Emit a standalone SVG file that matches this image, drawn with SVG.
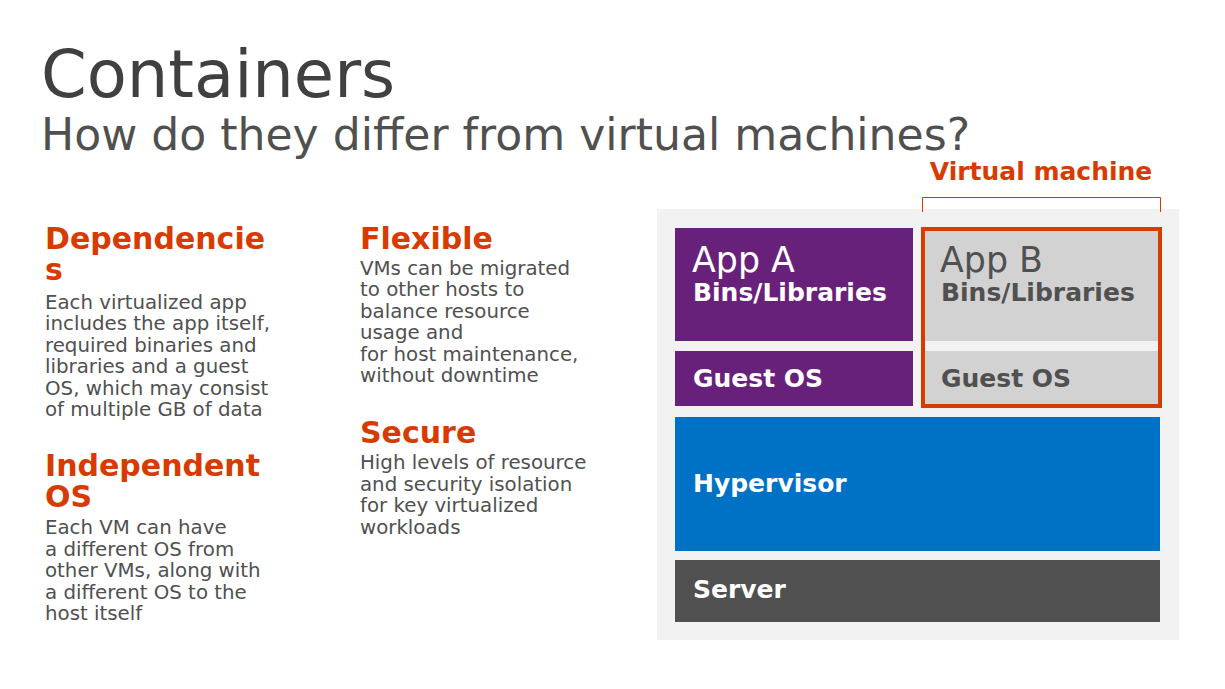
<svg xmlns="http://www.w3.org/2000/svg" width="1225" height="689" viewBox="0 0 1225 689">
<style>
text{font-family:"DejaVu Sans","Liberation Sans",sans-serif}
.h{font-weight:bold;font-size:30px;fill:#D83B01}
.b{font-size:19.8px;fill:#505050}
.lbl{font-weight:bold;font-size:25px;fill:#FFFFFF}
.lblg{font-weight:bold;font-size:25px;fill:#505050}
.app{font-size:34.8px;fill:#FFFFFF}
</style>
<rect width="1225" height="689" fill="#FFFFFF"/>
<g id="title">
<text x="41" y="97" font-size="65.5" fill="#404040">Containers</text>
<text x="41" y="150" font-size="44.1" fill="#505050">How do they differ from virtual machines?</text>
</g>
<g id="dependencies">
<text class="h" x="45" y="249">Dependencie</text>
<text class="h" x="45" y="280">s</text>
<text class="b"><tspan x="45" y="308.5">Each virtualized app</tspan><tspan x="45" y="330">includes the app itself,</tspan><tspan x="45" y="351.5">required binaries and</tspan><tspan x="45" y="373">libraries and a guest</tspan><tspan x="45" y="394.5">OS, which may consist</tspan><tspan x="45" y="416">of multiple GB of data</tspan></text>
</g>
<g id="independent">
<text class="h" x="45" y="475.5">Independent</text>
<text class="h" x="45" y="506.5">OS</text>
<text class="b"><tspan x="45" y="534">Each VM can have</tspan><tspan x="45" y="555.5">a different OS from</tspan><tspan x="45" y="577">other VMs, along with</tspan><tspan x="45" y="598.5">a different OS to the</tspan><tspan x="45" y="620">host itself</tspan></text>
</g>
<g id="flexible">
<text class="h" x="360" y="249">Flexible</text>
<text class="b"><tspan x="360" y="274.5">VMs can be migrated</tspan><tspan x="360" y="296">to other hosts to</tspan><tspan x="360" y="317.5">balance resource</tspan><tspan x="360" y="339">usage and</tspan><tspan x="360" y="360.5">for host maintenance,</tspan><tspan x="360" y="382">without downtime</tspan></text>
</g>
<g id="secure">
<text class="h" x="360" y="443">Secure</text>
<text class="b"><tspan x="360" y="469">High levels of resource</tspan><tspan x="360" y="490.5">and security isolation</tspan><tspan x="360" y="512">for key virtualized</tspan><tspan x="360" y="533.5">workloads</tspan></text>
</g>
<g id="panel">
<rect x="657" y="209" width="522" height="431" fill="#F2F2F2"/>
</g>
<g id="appA">
<rect x="675" y="228" width="238" height="113" fill="#68217A"/>
<text class="app" x="692" y="272">App A</text>
<text class="lbl" x="693" y="301">Bins/Libraries</text>
</g>
<g id="guestA">
<rect x="675" y="351" width="238" height="55" fill="#68217A"/>
<text class="lbl" x="693" y="387">Guest OS</text>
</g>
<g id="appB">
<rect x="923" y="228" width="237" height="113" fill="#D2D2D2"/>
<text class="app" x="940" y="272" style="fill:#505050">App B</text>
<text class="lblg" x="941" y="301">Bins/Libraries</text>
</g>
<g id="guestB">
<rect x="923" y="351" width="237" height="55" fill="#D2D2D2"/>
<text class="lblg" x="941" y="387">Guest OS</text>
</g>
<g id="vm">
<rect x="923" y="229" width="237" height="177" fill="none" stroke="#D83B01" stroke-width="4"/>
<text x="1041" y="180" text-anchor="middle" font-size="25" font-weight="bold" fill="#D83B01">Virtual machine</text>
</g>
<g id="hypervisor">
<rect x="675" y="417" width="485" height="134" fill="#0072C6"/>
<text class="lbl" x="693" y="492">Hypervisor</text>
</g>
<g id="server">
<rect x="675" y="560" width="485" height="62" fill="#505050"/>
<text class="lbl" x="693" y="598">Server</text>
</g>
<g id="connectors">
<path d="M922.5 212V197.5H1160.5V212" fill="none" stroke="#D83B01" stroke-width="1"/>
</g>
</svg>
